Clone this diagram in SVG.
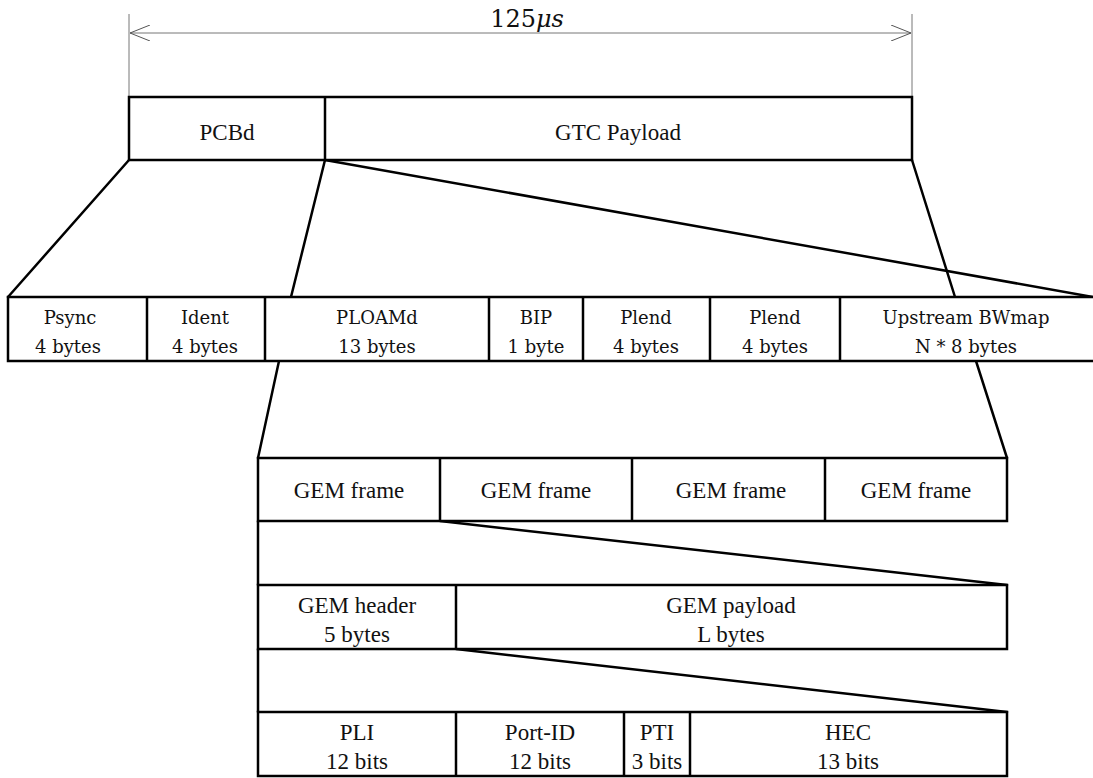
<svg xmlns="http://www.w3.org/2000/svg" width="1093" height="778" viewBox="0 0 1093 778">
<defs>
<marker id="arr" viewBox="0 0 20 16" refX="20" refY="8" markerWidth="20" markerHeight="16" markerUnits="userSpaceOnUse" orient="auto-start-reverse">
<path d="M0,0 L20,8 L0,16" fill="none" stroke="#555" stroke-width="1"/>
</marker>
</defs>
<style>
.b{fill:#fff;stroke:#000;stroke-width:2.5}
.d{stroke:#000;stroke-width:2.5;fill:none}
.c{stroke:#000;stroke-width:2.5;fill:none;stroke-linecap:round}
.t{font-family:"Liberation Serif","Times New Roman",serif;font-size:23px;fill:#111;text-anchor:middle}
.s{font-family:"DejaVu Serif",serif;font-size:18px;fill:#111;text-anchor:middle}
.dim{stroke:#777;stroke-width:1;fill:none}
</style>
<g id="dimension">
<line class="dim" x1="129" y1="14" x2="129" y2="97"/>
<line class="dim" x1="912" y1="14" x2="912" y2="97"/>
<line class="dim" x1="130" y1="33" x2="911" y2="33" marker-start="url(#arr)" marker-end="url(#arr)"/>
<text class="s" x="527" y="27" style="font-size:24px">125<tspan font-style="italic">μs</tspan></text>
</g>
<g id="connectors">
<line class="c" x1="129" y1="160" x2="8" y2="297"/>
<line class="c" x1="325" y1="160" x2="291" y2="297"/>
<line class="c" x1="325" y1="160" x2="1093" y2="297"/>
<line class="c" x1="912" y1="160" x2="955" y2="297"/>
<line class="c" x1="279" y1="361" x2="258" y2="458"/>
<line class="c" x1="976" y1="361" x2="1007" y2="458"/>
<line class="c" x1="258" y1="521" x2="258" y2="585"/>
<line class="c" x1="440" y1="521" x2="1007" y2="585"/>
<line class="c" x1="258" y1="649" x2="258" y2="712"/>
<line class="c" x1="456" y1="649" x2="1007" y2="712"/>
</g>
<g id="frame">
<rect class="b" x="129" y="97" width="783" height="63"/>
<line class="d" x1="325" y1="97" x2="325" y2="160"/>
<text class="t" x="227" y="140">PCBd</text>
<text class="t" x="618" y="140">GTC Payload</text>
</g>
<g id="pcbd">
<rect class="b" x="8" y="297" width="1090" height="64"/>
<line class="d" x1="147" y1="297" x2="147" y2="361"/>
<line class="d" x1="265" y1="297" x2="265" y2="361"/>
<line class="d" x1="489" y1="297" x2="489" y2="361"/>
<line class="d" x1="583" y1="297" x2="583" y2="361"/>
<line class="d" x1="710" y1="297" x2="710" y2="361"/>
<line class="d" x1="840" y1="297" x2="840" y2="361"/>
<text class="s" x="70" y="324">Psync</text><text class="s" x="68" y="353">4 bytes</text>
<text class="s" x="205" y="324">Ident</text><text class="s" x="205" y="353">4 bytes</text>
<text class="s" x="377" y="324">PLOAMd</text><text class="s" x="377" y="353">13 bytes</text>
<text class="s" x="536" y="324">BIP</text><text class="s" x="536" y="353">1 byte</text>
<text class="s" x="646" y="324">Plend</text><text class="s" x="646" y="353">4 bytes</text>
<text class="s" x="775" y="324">Plend</text><text class="s" x="775" y="353">4 bytes</text>
<text class="s" x="966" y="324">Upstream BWmap</text><text class="s" x="966" y="353">N * 8 bytes</text>
</g>
<g id="gemframes">
<rect class="b" x="258" y="458" width="749" height="63"/>
<line class="d" x1="440" y1="458" x2="440" y2="521"/>
<line class="d" x1="632" y1="458" x2="632" y2="521"/>
<line class="d" x1="825" y1="458" x2="825" y2="521"/>
<text class="t" x="349" y="498">GEM frame</text>
<text class="t" x="536" y="498">GEM frame</text>
<text class="t" x="731" y="498">GEM frame</text>
<text class="t" x="916" y="498">GEM frame</text>
</g>
<g id="gem">
<rect class="b" x="258" y="585" width="749" height="64"/>
<line class="d" x1="456" y1="585" x2="456" y2="649"/>
<text class="t" x="357" y="613">GEM header</text><text class="t" x="357" y="642">5 bytes</text>
<text class="t" x="731" y="613">GEM payload</text><text class="t" x="731" y="642">L bytes</text>
</g>
<g id="header">
<rect class="b" x="258" y="712" width="749" height="64"/>
<line class="d" x1="456" y1="712" x2="456" y2="776"/>
<line class="d" x1="624" y1="712" x2="624" y2="776"/>
<line class="d" x1="690" y1="712" x2="690" y2="776"/>
<text class="t" x="357" y="740">PLI</text><text class="t" x="357" y="769">12 bits</text>
<text class="t" x="540" y="740">Port-ID</text><text class="t" x="540" y="769">12 bits</text>
<text class="t" x="657" y="740">PTI</text><text class="t" x="657" y="769">3 bits</text>
<text class="t" x="848" y="740">HEC</text><text class="t" x="848" y="769">13 bits</text>
</g>
</svg>
